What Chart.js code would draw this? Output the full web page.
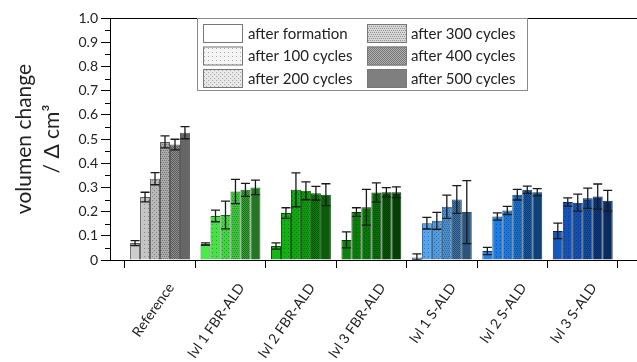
<!DOCTYPE html>
<html><head><meta charset="utf-8">
<script src="https://cdn.jsdelivr.net/npm/chart.js@4/dist/chart.umd.min.js"></script>
<style>html,body{margin:0;padding:0;background:#fff}#wrap{width:637px;height:362px}</style>
</head><body><div id="wrap"><canvas id="c" width="637" height="362"></canvas></div>
<script>
const categories = ['Reference','lvl 1 FBR-ALD','lvl 2 FBR-ALD','lvl 3 FBR-ALD','lvl 1 S-ALD','lvl 2 S-ALD','lvl 3 S-ALD'];
const seriesNames = ['after formation','after 100 cycles','after 200 cycles','after 300 cycles','after 400 cycles','after 500 cycles'];
const formation   = [0.070, 0.066, 0.058, 0.083, 0.010, 0.037, 0.120];
const formationErr= [0.010, 0.005, 0.013, 0.033, 0.015, 0.015, 0.032];
const c100        = [0.260, 0.182, 0.194, 0.198, 0.152, 0.180, 0.240];
const c100Err     = [0.020, 0.024, 0.022, 0.018, 0.024, 0.015, 0.017];
const c200        = [0.336, 0.186, 0.290, 0.218, 0.162, 0.205, 0.237];
const c200Err     = [0.025, 0.057, 0.070, 0.074, 0.035, 0.017, 0.035];
const c300        = [0.488, 0.283, 0.286, 0.279, 0.220, 0.270, 0.255];
const c300Err     = [0.025, 0.050, 0.037, 0.040, 0.048, 0.022, 0.042];
const c400        = [0.477, 0.290, 0.276, 0.280, 0.250, 0.290, 0.262];
const c400Err     = [0.022, 0.027, 0.028, 0.019, 0.057, 0.015, 0.052];
const c500        = [0.526, 0.300, 0.270, 0.280, 0.198, 0.280, 0.245];
const c500Err     = [0.025, 0.030, 0.045, 0.022, 0.130, 0.015, 0.043];
const yTicks = [0,0.1,0.2,0.3,0.4,0.5,0.6,0.7,0.8,0.9,1.0];

const values = [formation, c100, c200, c300, c400, c500];
const errors = [formationErr, c100Err, c200Err, c300Err, c400Err, c500Err];

// styles
const groupBase = ['#cccccc','#48ec48','#14b814','#0b820b','#58aaf8','#1f82ee','#1557bd'];
const stageDark = [0, 0.04, 0.09, 0.16, 0.30, 0.50];
const FONT = 'Lato, "Open Sans", "Liberation Sans", sans-serif';

function hexToRgb(h){h=h.replace('#','');return [parseInt(h.substr(0,2),16),parseInt(h.substr(2,2),16),parseInt(h.substr(4,2),16)];}
function darker(h,f){const [r,g,b]=hexToRgb(h);return `rgb(${Math.round(r*f)},${Math.round(g*f)},${Math.round(b*f)})`;}
const helperCtx = document.createElement('canvas').getContext('2d');
function makePattern(base, stage){
  const c=document.createElement('canvas'); c.width=4; c.height=4;
  const g=c.getContext('2d');
  g.fillStyle=base; g.fillRect(0,0,4,4);
  const d=stageDark[stage];
  if(d){g.fillStyle=`rgba(0,0,0,${d})`; g.fillRect(0,0,4,4);}
  g.fillStyle='rgba(0,0,0,0.30)';
  if(stage===1){ g.fillRect(0,0,1,1); }
  if(stage===2){ g.fillRect(0,0,1,1); g.fillRect(2,2,1,1); }
  if(stage===3){ g.fillRect(0,0,1,1); g.fillRect(2,0,1,1); g.fillRect(1,2,1,1); g.fillRect(3,2,1,1); }
  if(stage===4){ g.fillStyle='rgba(0,0,0,0.35)'; for(let y=0;y<4;y++)for(let x=0;x<4;x++) if((x+y)%2===0) g.fillRect(x,y,1,1); }
  return helperCtx.createPattern(c,'repeat');
}

const datasets = values.map((vals, s) => ({
  label: seriesNames[s],
  data: vals.map((v,i)=>({x:i, y:v})),
  errs: errors[s],
  backgroundColor: groupBase.map(b=>makePattern(b,s)),
  borderColor: groupBase.map(b=>darker(b,0.45)),
  borderWidth: 1,
  categoryPercentage: 0.85,
  barPercentage: 1.0
}));

const extras = {
  id:'extras',
  afterDatasetsDraw(chart){
    const ctx=chart.ctx, y=chart.scales.y;
    ctx.save();
    ctx.strokeStyle='#1a1a1a'; ctx.lineWidth=1.3;
    chart.data.datasets.forEach((ds,di)=>{
      const meta=chart.getDatasetMeta(di);
      meta.data.forEach((el,i)=>{
        const v=ds.data[i].y, e=ds.errs[i];
        const yt=y.getPixelForValue(v+e), yb=y.getPixelForValue(Math.max(v-e,0));
        ctx.beginPath();
        ctx.moveTo(el.x,yt); ctx.lineTo(el.x,yb);
        ctx.moveTo(el.x-4.5,yt); ctx.lineTo(el.x+4.5,yt);
        ctx.moveTo(el.x-4.5,yb); ctx.lineTo(el.x+4.5,yb);
        ctx.stroke();
      });
    });
    ctx.restore();
  },
  afterDraw(chart){
    const ctx=chart.ctx, a=chart.chartArea, y=chart.scales.y;
    ctx.save();
    // top frame
    ctx.strokeStyle='#000'; ctx.lineWidth=1;
    ctx.beginPath(); ctx.moveTo(a.left, Math.round(a.top)+0.5); ctx.lineTo(chart.width, Math.round(a.top)+0.5); ctx.stroke();
    // minor ticks
    ctx.beginPath();
    for(let k=0;k<10;k++){
      const p=Math.round(y.getPixelForValue(yTicks[k]+0.05))+0.5;
      ctx.moveTo(a.left-5,p); ctx.lineTo(a.left,p);
    }
    ctx.stroke();
    // legend
    const bx=197.5, by=Math.round(a.top)+0.5, bw=330, bh=72;
    ctx.fillStyle='#fff'; ctx.fillRect(bx,by,bw,bh);
    ctx.strokeStyle='#8a8a8a'; ctx.strokeRect(bx,by,bw,bh);
    ctx.font='15px '+FONT; ctx.textBaseline='middle'; ctx.textAlign='left';
    chart.data.datasets.forEach((ds,s)=>{
      const col=Math.floor(s/3), row=s%3;
      const sx=(col?367:203), sy=by+5.5+row*22.5;
      ctx.fillStyle=makePattern('#ffffff',s);
      ctx.fillRect(sx,sy,40,19);
      ctx.strokeStyle='#777'; ctx.strokeRect(sx+0.5,sy+0.5,39,18);
      ctx.fillStyle='#222';
      ctx.fillText(ds.label, col?411:248, sy+10);
    });
    ctx.restore();
  }
};

new Chart(document.getElementById('c'), {
  type:'bar',
  data:{datasets},
  plugins:[extras],
  options:{
    responsive:false, animation:false,
    layout:{padding:{top:18,right:0,left:0,bottom:0}},
    plugins:{legend:{display:false}, tooltip:{enabled:false}},
    scales:{
      x:{
        type:'linear', min:-0.71, max:6.77, offset:false,
        afterBuildTicks(s){ s.ticks = categories.map((c,i)=>({value:i})); },
        afterFit(s){ s.height=102; s.paddingLeft=0; s.paddingRight=0; },
        ticks:{ autoSkip:false, minRotation:55, maxRotation:55, padding:12, labelOffset:11, color:'#222',
          font:{size:14, family:FONT}, callback:(v)=>categories[v] ?? '' },
        grid:{ drawOnChartArea:false, tickLength:8, color:'#000', tickWidth:1 },
        border:{ color:'#000', width:1 }
      },
      y:{
        min:0, max:1,
        afterBuildTicks(s){ s.ticks = yTicks.map(v=>({value:v})); },
        afterFit(s){ s.width=110; },
        ticks:{ color:'#222', padding:3, font:{size:14, family:FONT},
          callback:(v)=> v===0 ? '0' : v.toFixed(1) },
        grid:{ drawOnChartArea:false, tickLength:9, color:'#000' },
        border:{ color:'#000', width:1 },
        title:{ display:true, text:['volumen change','/ \u0394 cm\u00b3'], color:'#222',
          font:{size:21, family:FONT, lineHeight:1.3}, padding:{top:11, bottom:0} }
      }
    }
  }
});
</script></body></html>
